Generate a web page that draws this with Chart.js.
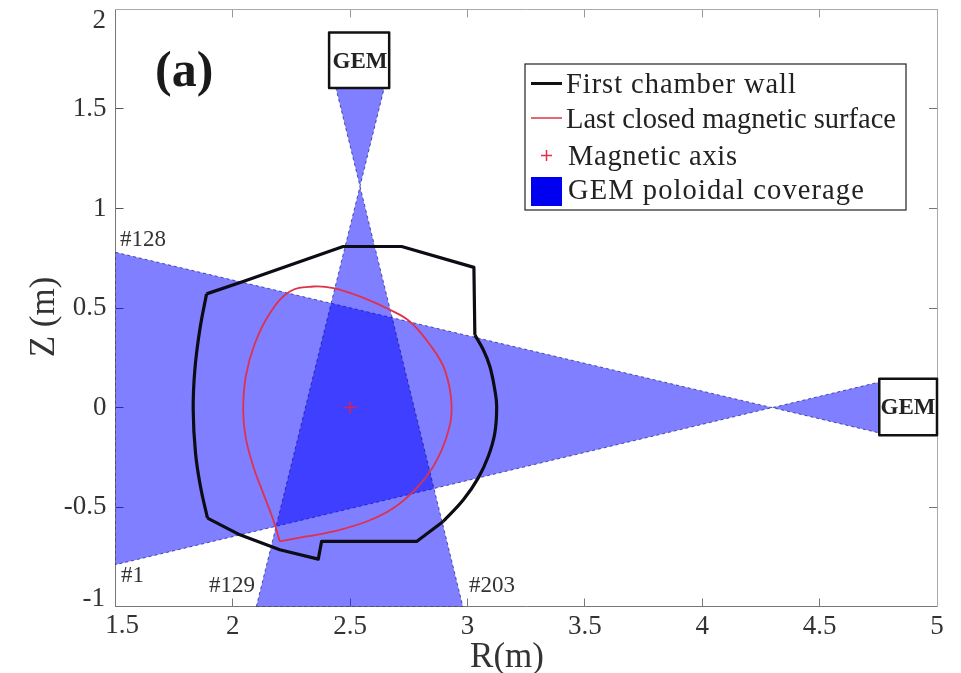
<!DOCTYPE html>
<html>
<head>
<meta charset="utf-8">
<title>GEM poloidal coverage</title>
<script src="https://cdn.jsdelivr.net/npm/chart.js@4"></script>
<style>
  html, body { margin: 0; padding: 0; background: #fff; }
  canvas { display: block; }
</style>
</head>
<body>
<canvas id="chart" width="961" height="673"></canvas>
<script>
const xTicks = [1.5, 2, 2.5, 3, 3.5, 4, 4.5, 5];
const yTicks = [-1, -0.5, 0, 0.5, 1, 1.5, 2];

// wall has two curved arcs, the rest is straight pieces
const wallLeftR = [1.888, 1.859, 1.838, 1.831, 1.841, 1.862, 1.892];
const wallLeftZ = [0.571, 0.39, 0.189, -0.012, -0.23, -0.397, -0.556];
const wallRightR = [2.896, 2.982, 3.045, 3.088, 3.116, 3.124, 3.116, 3.095, 3.067, 3.031];
const wallRightZ = [-0.573, -0.464, -0.355, -0.246, -0.129, 0.005, 0.089, 0.206, 0.29, 0.365];
const wallBottomR = [1.892, 2.03, 2.2, 2.364, 2.378, 2.783, 2.896];
const wallBottomZ = [-0.556, -0.64, -0.715, -0.762, -0.673, -0.673, -0.573];
const wallTopR = [3.031, 3.027, 2.719, 2.47, 2.044, 1.888];
const wallTopZ = [0.365, 0.704, 0.809, 0.809, 0.633, 0.571];

const lcfsR = [2.2, 2.172, 2.129, 2.087, 2.054, 2.044, 2.055, 2.094, 2.158, 2.243, 2.342, 2.428, 2.541, 2.669, 2.754, 2.84, 2.903, 2.932, 2.911, 2.854, 2.776, 2.683, 2.57, 2.428, 2.314, 2.2];
const lcfsZ = [-0.673, -0.564, -0.43, -0.296, -0.146, -0.012, 0.156, 0.323, 0.474, 0.583, 0.608, 0.6, 0.558, 0.491, 0.432, 0.315, 0.189, 0.005, -0.146, -0.296, -0.414, -0.506, -0.573, -0.623, -0.648, -0.673];

const axisR = [2.5];
const axisZ = [0];

// the two fans are bow ties, the crossing is the pinhole
const fanHorizR = [1.5, 4.754, 4.754, 1.5, 1.5];
const fanHorizZ = [0.78, -0.128, 0.128, -0.79, 0.78];
const fanVertR = [2.1, 2.645, 2.439, 2.98, 2.1];
const fanVertZ = [-1, 1.606, 1.606, -1, -1];

const boxTopR = [2.41, 2.666, 2.666, 2.41, 2.41];
const boxTopZ = [1.606, 1.606, 1.884, 1.884, 1.606];
const boxRightR = [4.754, 5, 5, 4.754, 4.754];
const boxRightZ = [-0.14, -0.14, 0.144, 0.144, -0.14];

const legendLabels = ['First chamber wall', 'Last closed magnetic surface', 'Magnetic axis', 'GEM poloidal coverage'];

const serif = '"Liberation Serif", serif';
const toPoints = (r, z) => r.map((v, i) => ({ x: v, y: z[i] }));

const outline = (r, z, color, width, order, extra) => Object.assign({
  data: toPoints(r, z),
  showLine: true,
  tension: 0,
  pointRadius: 0,
  borderColor: color,
  borderWidth: width,
  borderJoinStyle: 'round',
  order: order
}, extra);

const fan = (r, z, order) => outline(r, z, 'rgba(10,10,120,0.8)', 0.8, order, {
  fill: 'shape',
  backgroundColor: 'rgba(0,0,255,0.5)',
  borderDash: [3, 3]
});

// text placed in pixels, same spots as the figure
// the end tick labels are nudged inwards in the figure, chart.js can't do that per tick
const notes = [
  { text: '(a)', x: 155, y: 86, font: 'bold 50px ' + serif, color: '#1a1a1a' },
  { text: 'GEM', x: 360, y: 68, font: 'bold 23px ' + serif, color: '#222', align: 'center' },
  { text: 'GEM', x: 908, y: 414, font: 'bold 23px ' + serif, color: '#222', align: 'center' },
  { text: '#128', x: 120, y: 246, font: '23px ' + serif, color: '#333' },
  { text: '#1', x: 121, y: 582, font: '23px ' + serif, color: '#333' },
  { text: '#129', x: 209, y: 592, font: '23px ' + serif, color: '#333' },
  { text: '#203', x: 469, y: 592, font: '23px ' + serif, color: '#333' },
  { text: 'R(m)', x: 507, y: 667, font: '35px ' + serif, color: '#333', align: 'center' },
  { text: 'Z (m)', x: 54, y: 317, font: '35px ' + serif, color: '#333', align: 'center', rotate: true },
  { text: '2', x: 106, y: 28, font: '27px ' + serif, color: '#333', align: 'right' },
  { text: '-1', x: 105, y: 606, font: '27px ' + serif, color: '#333', align: 'right' },
  { text: '1.5', x: 122, y: 633, font: '27px ' + serif, color: '#333', align: 'center' }
];

const notesPlugin = {
  id: 'notes',
  afterDraw(chart) {
    const ctx = chart.ctx;
    notes.forEach(n => {
      ctx.save();
      ctx.font = n.font;
      ctx.fillStyle = n.color;
      ctx.textAlign = n.align || 'left';
      ctx.textBaseline = 'alphabetic';
      ctx.translate(n.x, n.y);
      if (n.rotate) ctx.rotate(-Math.PI / 2);
      ctx.fillText(n.text, 0, 0);
      ctx.restore();
    });
  }
};

const legendPlugin = {
  id: 'figLegend',
  afterDraw(chart) {
    const ctx = chart.ctx;
    const rows = [93, 128, 165, 199];
    const spacing = ['0.95px', '0px', '0.7px', '1.1px'];
    ctx.save();
    ctx.fillStyle = '#fff';
    ctx.fillRect(525, 64, 381, 146);
    ctx.strokeStyle = '#222';
    ctx.lineWidth = 1.2;
    ctx.strokeRect(525, 64, 381, 146);

    ctx.lineWidth = 3;
    ctx.strokeStyle = '#111';
    ctx.beginPath(); ctx.moveTo(531, 83.5); ctx.lineTo(562, 83.5); ctx.stroke();
    ctx.lineWidth = 1.5;
    ctx.strokeStyle = '#e0304a';
    ctx.beginPath(); ctx.moveTo(531, 118); ctx.lineTo(562, 118); ctx.stroke();
    ctx.beginPath();
    ctx.moveTo(541, 155.5); ctx.lineTo(552, 155.5);
    ctx.moveTo(546.5, 150); ctx.lineTo(546.5, 161);
    ctx.stroke();
    ctx.fillStyle = '#0000f0';
    ctx.fillRect(531, 177, 31, 29);

    ctx.font = '28.5px ' + serif;
    ctx.fillStyle = '#222';
    ctx.textAlign = 'left';
    legendLabels.forEach((label, i) => {
      ctx.letterSpacing = spacing[i];
      ctx.fillText(label, i < 2 ? 566 : 568, rows[i]);
    });
    ctx.restore();
  }
};

const tickList = list => scale => { scale.ticks = list.map(value => ({ value })); };
// fix the axis box and drop the label overhang so the plot area stays put
const fixed = (key, size) => scale => {
  scale[key] = size;
  scale.paddingTop = scale.paddingBottom = scale.paddingLeft = scale.paddingRight = 0;
};
const tickText = skip => v => (skip.includes(v) ? '' : String(v));

new Chart(document.getElementById('chart'), {
  type: 'scatter',
  data: {
    datasets: [
      outline(boxTopR, boxTopZ, '#111', 2.5, 0, { fill: 'shape', backgroundColor: '#fff' }),
      outline(boxRightR, boxRightZ, '#111', 2.5, 0, { fill: 'shape', backgroundColor: '#fff', clip: false }),
      { data: toPoints(axisR, axisZ), pointStyle: 'cross', pointRadius: 6, pointBorderColor: '#e0204a', pointBorderWidth: 1.5, order: 1 },
      outline(lcfsR, lcfsZ, '#e0304a', 1.8, 2, { tension: 0.4 }),
      outline(wallLeftR, wallLeftZ, '#0c0c14', 3.2, 3, { tension: 0.4 }),
      outline(wallRightR, wallRightZ, '#0c0c14', 3.2, 3, { tension: 0.4 }),
      outline(wallBottomR, wallBottomZ, '#0c0c14', 3.2, 3),
      outline(wallTopR, wallTopZ, '#0c0c14', 3.2, 3),
      fan(fanVertR, fanVertZ, 4),
      fan(fanHorizR, fanHorizZ, 5)
    ]
  },
  options: {
    responsive: false,
    animation: false,
    layout: { padding: 0 },
    plugins: { legend: { display: false }, title: { display: false }, tooltip: { enabled: false } },
    scales: {
      x: {
        type: 'linear', position: 'bottom', min: 1.5, max: 5,
        afterBuildTicks: tickList(xTicks),
        afterFit: fixed('height', 66.5),
        border: { color: '#777', width: 1 },
        grid: { drawOnChartArea: false, tickLength: -8, tickColor: '#777' },
        ticks: { autoSkip: false, maxRotation: 0, padding: 12, color: '#333', font: { family: serif, size: 27 }, callback: tickText([1.5]) }
      },
      y: {
        type: 'linear', position: 'left', min: -1, max: 2,
        afterBuildTicks: tickList(yTicks),
        afterFit: fixed('width', 115.5),
        border: { color: '#777', width: 1 },
        grid: { drawOnChartArea: false, tickLength: -8, tickColor: '#555' },
        ticks: { autoSkip: false, padding: 17, color: '#333', font: { family: serif, size: 27 }, callback: tickText([2, -1]) }
      },
      xTop: {
        type: 'linear', position: 'top', min: 1.5, max: 5,
        afterBuildTicks: tickList(xTicks),
        afterFit: fixed('height', 9.5),
        border: { color: '#aaa', width: 1 },
        grid: { drawOnChartArea: false, tickLength: -8, tickColor: '#999' },
        ticks: { display: false }
      },
      yRight: {
        type: 'linear', position: 'right', min: -1, max: 2,
        afterBuildTicks: tickList(yTicks),
        afterFit: fixed('width', 24),
        border: { color: '#aaa', width: 1 },
        grid: { drawOnChartArea: false, tickLength: -8, tickColor: '#777' },
        ticks: { display: false }
      }
    }
  },
  plugins: [notesPlugin, legendPlugin]
});
</script>
</body>
</html>
